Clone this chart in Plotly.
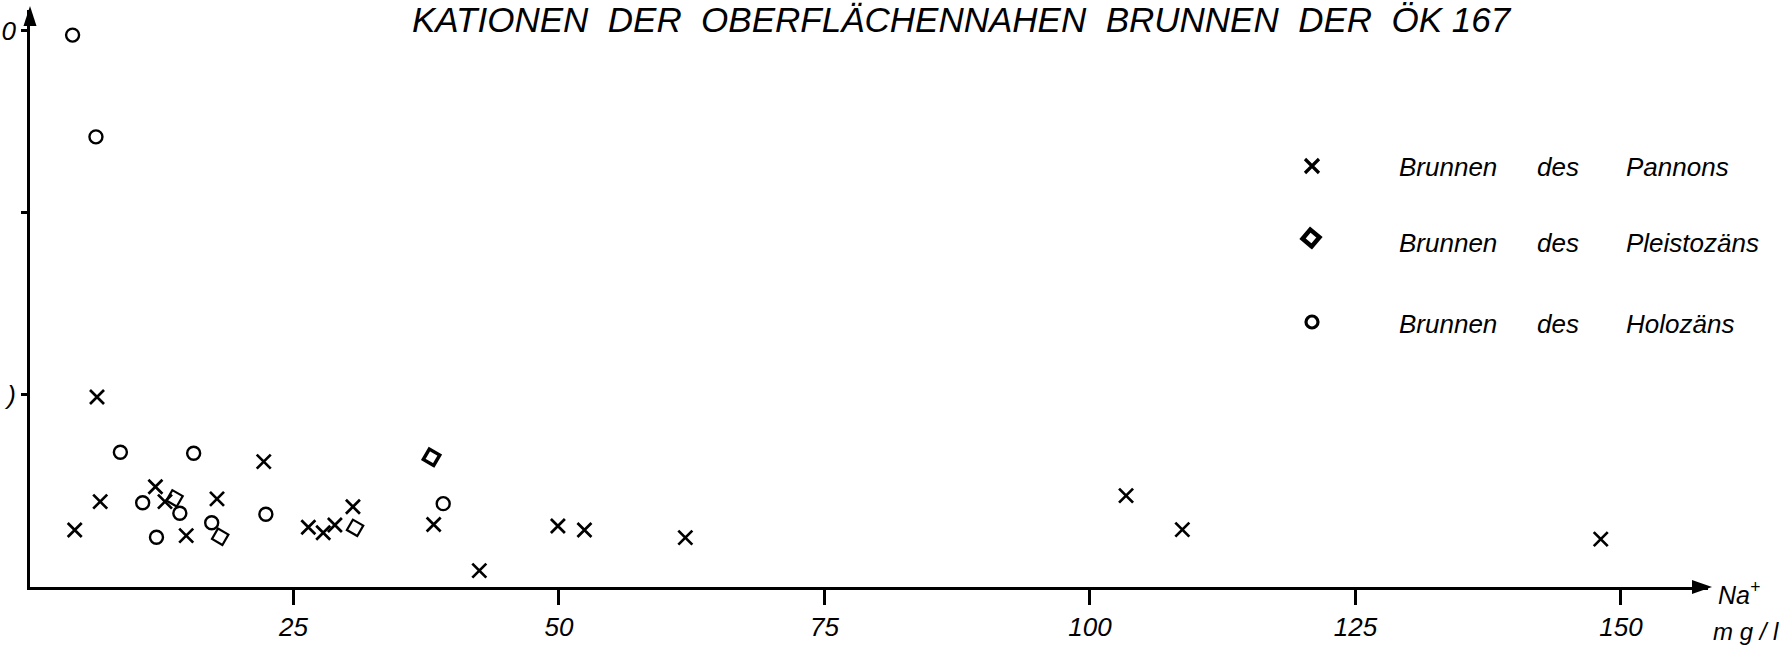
import plotly.graph_objects as go

# ---------------- data ----------------
pannon_na = [6.5, 22.2, 12.0, 6.8, 12.9, 17.8, 30.6, 4.4, 14.9, 26.4, 27.8, 28.9,
             38.2, 42.5, 49.9, 52.4, 61.9, 103.4, 108.7, 148.1]
pannon_y = [98.9, 63.4, 49.6, 41.4, 41.4, 42.9, 38.6, 25.8, 22.7, 27.3, 24.3, 28.6,
            28.8, 3.5, 28.0, 25.8, 21.6, 44.7, 26.0, 20.8]

pleist_na = [13.8, 18.1, 30.8, 38.0]
pleist_y = [43.2, 22.1, 27.0, 65.8]

holo_na = [4.2, 6.4, 8.7, 15.6, 10.8, 14.3, 22.4, 12.1, 17.3, 39.1]
holo_y = [297.7, 241.8, 68.5, 68.0, 40.8, 35.0, 34.5, 21.8, 29.8, 40.3]

x_ticks = [25, 50, 75, 100, 125, 150]
x_tick_labels = ["25", "50", "75", "100", "125", "150"]
y_ticks = [100, 300]
y_tick_labels = [")", "0"]          # only these glyphs survive in the scan
y_minor_ticks = [200]

title_text = "KATIONEN  DER  OBERFLÄCHENNAHEN  BRUNNEN  DER  ÖK 167"
legend_rows = [
    ("x-thin-open", 0, ["Brunnen", "des", "Pannons"]),
    ("square-open", 40, ["Brunnen", "des", "Pleistozäns"]),
    ("circle-open", 0, ["Brunnen", "des", "Holozäns"]),
]

# ---------------- styling ----------------
FONT = "Liberation Sans"
W, H = 1789, 651
ML, MR, MT, MB = 30, 81, 10, 64
PW, PH = W - ML - MR, H - MT - MB


def px2paper(x, y):
    return (x - ML) / PW, 1 - (y - MT) / PH


fig = go.Figure()

fig.add_trace(go.Scatter(
    x=pannon_na, y=pannon_y, mode="markers", name="Brunnen des Pannons",
    marker=dict(symbol="x-thin-open", size=14, color="black",
                line=dict(width=2.7, color="black")),
    showlegend=False))
fig.add_trace(go.Scatter(
    x=pleist_na, y=pleist_y, mode="markers", name="Brunnen des Pleistozäns",
    marker=dict(symbol="square-open", size=12, angle=30, color="black",
                line=dict(width=[2.2, 2.2, 2.2, 3.5], color="black")),
    showlegend=False))
fig.add_trace(go.Scatter(
    x=holo_na, y=holo_y, mode="markers", name="Brunnen des Holozäns",
    marker=dict(symbol="circle-open", size=13, color="black",
                line=dict(width=2.4, color="black")),
    showlegend=False))

# ---------------- manual legend ----------------
leg_marker_px = [(1312, 166), (1311, 238), (1312, 322)]
leg_text_y_px = [167, 243, 324]
leg_word_x_px = [1397, 1535, 1624]
for (sym, ang, words), (mx, my), ty in zip(legend_rows, leg_marker_px, leg_text_y_px):
    xp, yp = px2paper(mx, my)
    fig.add_trace(go.Scatter(
        x=[xp], y=[yp], xaxis="x2", yaxis="y2", mode="markers", showlegend=False,
        hoverinfo="skip",
        marker=dict(symbol=sym, size=14 if sym == "x-thin-open" else 12, angle=ang,
                    color="black",
                    line=dict(width=3.2 if sym != "square-open" else 4.5, color="black"))))
    for wx, word in zip(leg_word_x_px, words):
        ax_, ay_ = px2paper(wx, ty)
        fig.add_annotation(x=ax_, y=ay_, xref="paper", yref="paper", text=word,
                           showarrow=False, xanchor="left", yanchor="middle",
                           font=dict(family=FONT, size=26, color="black", style="italic"))

# ---------------- title ----------------
tx, _ = px2paper(962, 0)
fig.add_annotation(x=tx, y=1, xref="paper", yref="paper", text=title_text,
                   showarrow=False, xanchor="center", yanchor="top", yshift=12,
                   font=dict(family=FONT, size=35, color="black", style="italic"))

# ---------------- axis unit labels ----------------
nx, ny = px2paper(1716, 593)
fig.add_annotation(x=nx, y=ny, xref="paper", yref="paper", text="Na<sup>+</sup>",
                   showarrow=False, xanchor="left", yanchor="middle",
                   font=dict(family=FONT, size=25, color="black", style="italic"))
mx_, my_ = px2paper(1781, 631)
fig.add_annotation(x=mx_, y=my_, xref="paper", yref="paper", text="m g / l",
                   showarrow=False, xanchor="right", yanchor="middle",
                   font=dict(family=FONT, size=24, color="black", style="italic"))

# ---------------- arrowheads (shapes) ----------------
def tri(p1, p2, p3):
    a, b, c = px2paper(*p1), px2paper(*p2), px2paper(*p3)
    return f"M {a[0]},{a[1]} L {b[0]},{b[1]} L {c[0]},{c[1]} Z"


fig.add_shape(type="path", xref="paper", yref="paper",
              path=tri((1712, 587), (1692, 580), (1692, 594)),
              fillcolor="black", line=dict(width=0))
fig.add_shape(type="path", xref="paper", yref="paper",
              path=tri((30, 6), (23.5, 26), (36.5, 26)),
              fillcolor="black", line=dict(width=0))

fig.update_layout(
    width=W, height=H,
    margin=dict(l=ML, r=MR, t=MT, b=MB, pad=0, autoexpand=False),
    paper_bgcolor="white", plot_bgcolor="white",
    showlegend=False,
    xaxis=dict(range=[0.19, 158.2], tickvals=x_ticks, ticktext=x_tick_labels,
               showgrid=False, zeroline=False, showline=True, linewidth=2.6,
               linecolor="black", ticks="outside", ticklen=15, tickwidth=2.5,
               tickcolor="black", automargin=False,
               tickfont=dict(family=FONT, size=26, color="black", style="italic")),
    yaxis=dict(range=[-5.5, 311.5], tickvals=y_ticks, ticktext=y_tick_labels,
               showgrid=False, zeroline=False, showline=True, linewidth=2.6,
               linecolor="black", ticks="outside", ticklen=6, tickwidth=2.5,
               tickcolor="black", automargin=False,
               minor=dict(tickvals=y_minor_ticks, ticks="outside", ticklen=6,
                          tickwidth=2.5, tickcolor="black", showgrid=False),
               tickfont=dict(family=FONT, size=26, color="black", style="italic")),
    xaxis2=dict(range=[0, 1], overlaying="x", visible=False, fixedrange=True),
    yaxis2=dict(range=[0, 1], overlaying="y", visible=False, fixedrange=True),
)

fig.write_html("out.html", config={"displayModeBar": False},
               post_script="document.body.style.margin='0';document.body.style.overflow='hidden';")
